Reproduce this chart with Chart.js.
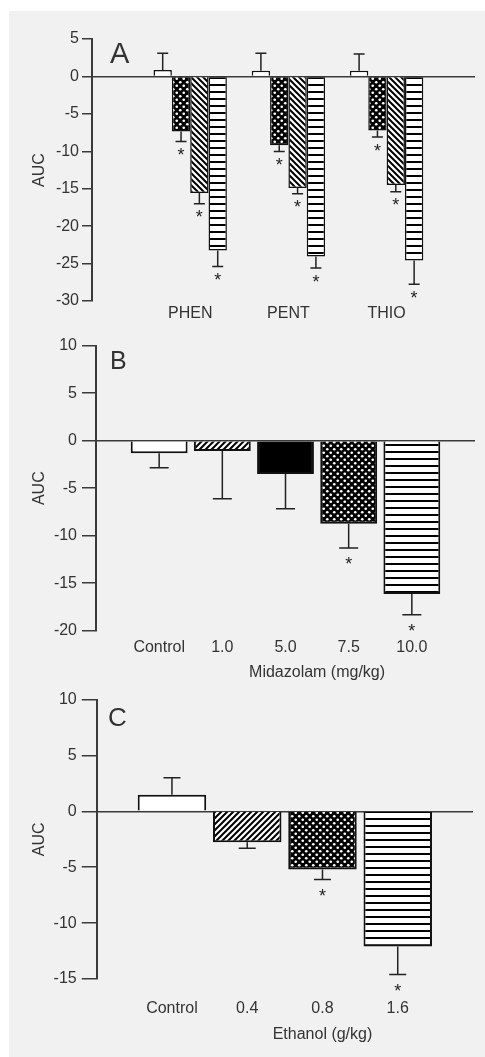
<!DOCTYPE html>
<html><head><meta charset="utf-8">
<script src="https://cdn.jsdelivr.net/npm/chart.js@4/dist/chart.umd.min.js"></script>
<style>
html,body{margin:0;padding:0;background:#fff;}
#page{position:absolute;left:9px;top:11px;width:476px;height:1046px;background:#f1f1f1;}
canvas{position:absolute;left:0;}
</style></head><body>
<div id="page"></div>
<canvas id="cA" width="485" height="325" style="top:0px"></canvas>
<canvas id="cB" width="485" height="360" style="top:325px"></canvas>
<canvas id="cC" width="485" height="372" style="top:685px"></canvas>
<script>
// ---------- Panel A data ----------
const drugsA = ['PHEN', 'PENT', 'THIO'];
const ctrlA  = [0.85, 0.76, 0.76];
const dose1A = [-7.36, -9.19, -7.23];
const dose2A = [-15.57, -14.9, -14.5];
const dose3A = [-23.25, -24.05, -24.6];
const ctrlErrA  = [2.23, 2.32, 2.23];
const dose1ErrA = [1.34, 0.85, 0.85];
const dose2ErrA = [1.43, 0.76, 0.9];
const dose3ErrA = [2.15, 1.55, 3.15];
const ctrlSigA  = [false, false, false];
const dose1SigA = [true, true, true];
const dose2SigA = [true, true, true];
const dose3SigA = [true, true, true];
const yTicksA = [5, 0, -5, -10, -15, -20, -25, -30];

// ---------- Panel B data ----------
const dosesB = ['Control', '1.0', '5.0', '7.5', '10.0'];
const valuesB = [-1.33, -1.08, -3.5, -8.74, -16.14];
const errB = [1.51, 5.02, 3.66, 2.55, 2.18];
const sigB = [false, false, false, true, true];
const yTicksB = [10, 5, 0, -5, -10, -15, -20];

// ---------- Panel C data ----------
const dosesC = ['Control', '0.4', '0.8', '1.6'];
const valuesC = [1.49, -2.77, -5.2, -12.1];
const errC = [1.51, 0.53, 0.9, 2.5];
const sigC = [false, false, true, true];
const yTicksC = [10, 5, 0, -5, -10, -15];

const FONT = "'Liberation Sans', Arial, Helvetica, sans-serif";
const INK = '#333';
const AXIS = '#3a3a3a';
Chart.defaults.font.family = FONT;
Chart.defaults.color = INK;

// ---------- patterns ----------
function makePattern(kind) {
  if (kind === 'white') return '#ffffff';
  if (kind === 'black') return '#000000';
  const c = document.createElement('canvas');
  const g = c.getContext('2d');
  if (kind === 'cross') {
    c.width = 7; c.height = 7;
    g.fillStyle = '#000'; g.fillRect(0, 0, 7, 7);
    g.fillStyle = '#fff';
    [[1.75, 1.75], [5.25, 5.25]].forEach(([x, y]) => { g.beginPath(); g.arc(x, y, 1.35, 0, Math.PI * 2); g.fill(); });
  } else if (kind === 'hstripe') {
    c.width = 7; c.height = 7;
    g.fillStyle = '#fff'; g.fillRect(0, 0, 7, 7);
    g.fillStyle = '#000'; g.fillRect(0, 0, 7, 2);
  } else if (kind === 'diagDown' || kind === 'diagUp') {
    const s = 6;
    c.width = s; c.height = s;
    g.fillStyle = '#fff'; g.fillRect(0, 0, s, s);
    g.strokeStyle = '#000'; g.lineWidth = 2;
    if (kind === 'diagUp') { g.translate(0, s); g.scale(1, -1); }
    g.beginPath();
    g.moveTo(-1, -1); g.lineTo(s + 1, s + 1);
    g.moveTo(-1, s - 1); g.lineTo(1, s + 1);
    g.moveTo(s - 1, -1); g.lineTo(s + 1, 1);
    g.stroke();
  }
  return g.createPattern(c, 'repeat');
}

// ---------- plugins ----------
const errorBars = {
  id: 'errorBars',
  afterDatasetsDraw(chart, args, o) {
    const { ctx } = chart;
    const ys = chart.scales.y;
    ctx.save();
    chart.data.datasets.forEach((ds, di) => {
      const meta = chart.getDatasetMeta(di);
      meta.data.forEach((bar, i) => {
        const v = ds.data[i].y;
        const e = ds.errors[i];
        const end = v >= 0 ? v + e : v - e;
        const y0 = ys.getPixelForValue(v);
        const y1 = ys.getPixelForValue(end);
        ctx.strokeStyle = '#222';
        ctx.lineWidth = o.lineWidth;
        ctx.beginPath();
        ctx.moveTo(bar.x, y0); ctx.lineTo(bar.x, y1);
        ctx.moveTo(bar.x - o.cap / 2, y1); ctx.lineTo(bar.x + o.cap / 2, y1);
        ctx.stroke();
        if (ds.sig[i]) {
          ctx.fillStyle = '#222';
          ctx.font = o.starSize + 'px ' + FONT;
          ctx.textAlign = 'center';
          ctx.textBaseline = 'alphabetic';
          ctx.fillText('*', bar.x, y1 + o.starGap + 0.57 * o.starSize);
        }
      });
    });
    ctx.restore();
  }
};

const panelText = {
  id: 'panelText',
  afterDraw(chart, args, o) {
    const { ctx, chartArea } = chart;
    ctx.save();
    ctx.fillStyle = INK;
    ctx.font = o.letterSize + 'px ' + FONT;
    ctx.textAlign = 'left';
    ctx.textBaseline = 'alphabetic';
    ctx.fillText(o.letter, chartArea.left + o.letterDx, chartArea.top + o.letterDy);
    if (o.title) {
      ctx.font = '16px ' + FONT;
      ctx.textAlign = 'center';
      ctx.textBaseline = 'middle';
      ctx.fillText(o.title, chart.scales.x.getPixelForValue(o.titleAt), chartArea.bottom + o.titleDy);
    }
    ctx.restore();
  }
};

function makeChart(id, cfg) {
  const datasets = cfg.series.map(s => ({
    data: s.values.map((v, i) => ({ x: i + 1, y: v })),
    errors: s.errors,
    sig: s.sig,
    backgroundColor: Array.isArray(s.pattern) ? s.pattern.map(makePattern) : makePattern(s.pattern),
    borderColor: '#111',
    borderWidth: cfg.borderWidth,
    categoryPercentage: cfg.catPct,
    barPercentage: 1,
  }));
  return new Chart(document.getElementById(id), {
    type: 'bar',
    data: { datasets },
    plugins: [errorBars, panelText],
    options: {
      responsive: false,
      animation: false,
      layout: { padding: cfg.padding },
      plugins: {
        legend: { display: false },
        tooltip: { enabled: false },
        errorBars: cfg.err,
        panelText: cfg.text,
      },
      scales: {
        x: {
          type: 'linear',
          offset: false,
          min: 0,
          max: cfg.xMax,
          grid: { display: false, drawTicks: false, offset: false },
          border: { display: false },
          afterBuildTicks: s => { s.ticks = cfg.labels.map((_, i) => ({ value: i + 1 })); },
          afterFit: s => { s.height = cfg.xHeight; },
          ticks: {
            autoSkip: false, maxRotation: 0, padding: cfg.xPad,
            font: { size: 16 }, color: INK,
            callback: v => cfg.labels[v - 1] ?? '',
          },
        },
        y: {
          min: Math.min(...cfg.yTicks),
          max: Math.max(...cfg.yTicks),
          afterBuildTicks: s => { s.ticks = cfg.yTicks.map(v => ({ value: v })); },
          afterFit: s => { s.width = cfg.yWidth; },
          grid: {
            drawOnChartArea: true,
            color: c => (c.tick && c.tick.value === 0) ? AXIS : 'rgba(0,0,0,0)',
            lineWidth: 1.5,
            tickColor: AXIS,
            tickLength: cfg.tickLen,
            tickWidth: 1.5,
          },
          border: { display: true, color: AXIS, width: 2 },
          ticks: { padding: cfg.yPad, font: { size: 16 }, color: INK },
          title: { display: true, text: 'AUC', font: { size: 16 }, color: INK, padding: { top: 30.4, bottom: 0 } },
        }
      }
    }
  });
}

makeChart('cA', {
  labels: drugsA,
  series: [
    { values: ctrlA, errors: ctrlErrA, sig: ctrlSigA, pattern: 'white' },
    { values: dose1A, errors: dose1ErrA, sig: dose1SigA, pattern: 'cross' },
    { values: dose2A, errors: dose2ErrA, sig: dose2SigA, pattern: 'diagDown' },
    { values: dose3A, errors: dose3ErrA, sig: dose3SigA, pattern: 'hstripe' },
  ],
  yTicks: yTicksA, xMax: 3.9, catPct: 0.747, borderWidth: 1.5,
  padding: { left: 0, right: 10, top: 39, bottom: 0 },
  yWidth: 92, xHeight: 24, xPad: 3.4, tickLen: 10, yPad: 3,
  err: { cap: 11, lineWidth: 1.5, starGap: 9.5, starSize: 18 },
  text: { letter: 'A', letterDx: 18, letterDy: 24, letterSize: 29 },
});

makeChart('cB', {
  labels: dosesB,
  series: [
    { values: valuesB, errors: errB, sig: sigB, pattern: ['white', 'diagUp', 'black', 'cross', 'hstripe'] },
  ],
  yTicks: yTicksB, xMax: 6, catPct: 0.9, borderWidth: 2,
  padding: { left: 0, right: 10, top: 20.7, bottom: 0 },
  yWidth: 96, xHeight: 54.3, xPad: 7.2, tickLen: 14, yPad: 5,
  err: { cap: 19, lineWidth: 1.5, starGap: 12, starSize: 18 },
  text: { letter: 'B', letterDx: 14, letterDy: 23.3, letterSize: 25, title: 'Midazolam (mg/kg)', titleAt: 3.5, titleDy: 42 },
});

makeChart('cC', {
  labels: dosesC,
  series: [
    { values: valuesC, errors: errC, sig: sigC, pattern: ['white', 'diagUp', 'cross', 'hstripe'] },
  ],
  yTicks: yTicksC, xMax: 5, catPct: 0.91, borderWidth: 2,
  padding: { left: 0, right: 12, top: 14.3, bottom: 0 },
  yWidth: 96.7, xHeight: 78, xPad: 19.5, tickLen: 15, yPad: 5,
  err: { cap: 17, lineWidth: 1.5, starGap: 12.5, starSize: 18 },
  text: { letter: 'C', letterDx: 11.3, letterDy: 26.4, letterSize: 26, title: 'Ethanol (g/kg)', titleAt: 3, titleDy: 56 },
});
</script>
</body></html>
